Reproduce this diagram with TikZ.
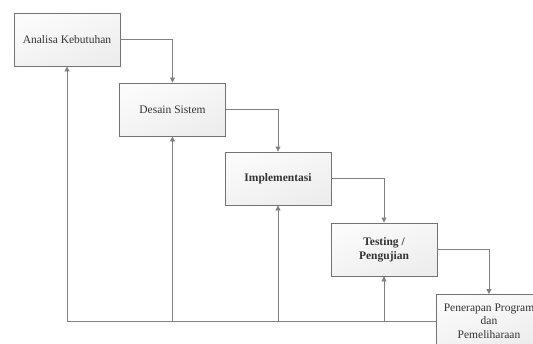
\documentclass[tikz,border=0pt]{standalone}
\usepackage{fontspec}
\setmainfont{Liberation Serif}
\usetikzlibrary{arrows.meta}

\tikzset{
  phase/.style={draw=black!55, line width=0.9pt,
    top color=gray!3, bottom color=gray!14, shading angle=20,
    minimum width=106pt, minimum height=53pt, inner sep=1pt,
    align=center, font=\fontsize{11.5}{14}\selectfont, text=black!80},
  flow/.style={draw=black!50, line width=0.9pt,
    -{Triangle[length=5pt,width=5pt]}, >={Triangle}},
  wire/.style={draw=black!50, line width=0.9pt}
}

\begin{document}
\begin{tikzpicture}[x=1pt, y=-1pt]
  \useasboundingbox (0,0) rectangle (533,343);
  \clip (0,0) rectangle (533,343);

  % waterfall phases
  \node[phase] (b1) at (67,39.5)   {Analisa Kebutuhan};
  \node[phase] (b2) at (172.5,109.5) {Desain Sistem};
  \node[phase] (b3) at (278,178.5) {\bfseries Implementasi};
  \node[phase] (b4) at (384,249.5) {\bfseries Testing /\\ \bfseries Pengujian};
  \node[phase, font=\fontsize{11.5}{13.5}\selectfont] (b5) at (489,321)
    {Penerapan Program\\dan\\Pemeliharaan};

  % forward flow
  \draw[flow] (b1.east) -| (b2.north);
  \draw[flow] (b2.east) -| (b3.north);
  \draw[flow] (b3.east) -| (b4.north);
  \draw[flow] (b4.east) -| (b5.north);

  % feedback line along the bottom
  \coordinate (base) at (67,321);
  \draw[wire] (b5.west) -- (base);
  \draw[flow] (base) -- (b1.south);
  \draw[flow] (b2.south |- base) -- (b2.south);
  \draw[flow] (b3.south |- base) -- (b3.south);
  \draw[flow] (b4.south |- base) -- (b4.south);
\end{tikzpicture}
\end{document}
